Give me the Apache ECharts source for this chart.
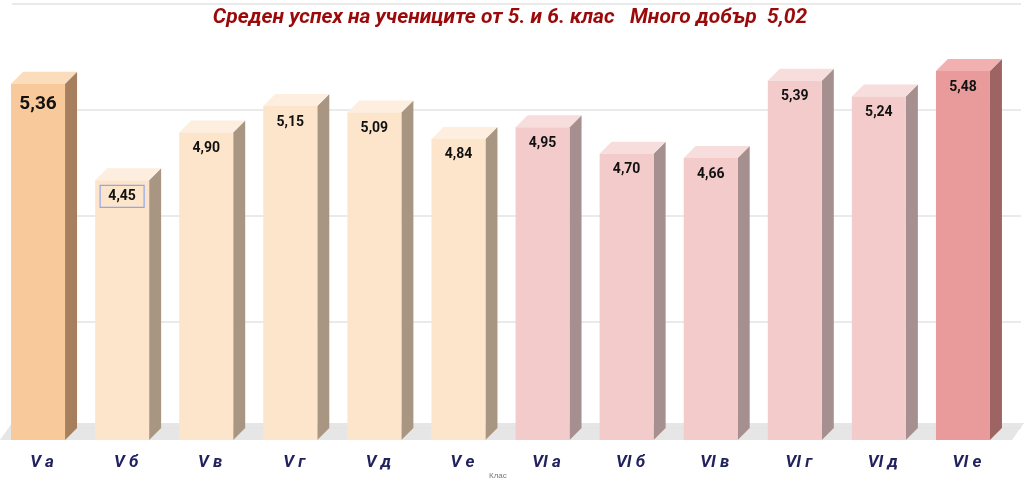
<!DOCTYPE html>
<html lang="bg">
<head>
<meta charset="UTF-8">
<title>Среден успех</title>
<script src="https://cdn.jsdelivr.net/npm/echarts@6/dist/echarts.min.js"></script>
<style>
  html,body{margin:0;padding:0;background:#fff;}
  #chart{width:1024px;height:483px;}
</style>
</head>
<body>
<div id="chart"></div>
<script>
  'use strict';
  // класове и среден успех
  var classes=['V а','V б','V в','V г','V д','V е','VI а','VI б','VI в','VI г','VI д','VI е'];
  var grades=[5.36,4.45,4.90,5.15,5.09,4.84,4.95,4.70,4.66,5.39,5.24,5.48];
  var labels=['5,36','4,45','4,90','5,15','5,09','4,84','4,95','4,70','4,66','5,39','5,24','5,48'];

  // цветове: лице, страна, горна част
  function colorsFor(i){
    if(i===0) return ['#f8c99a','#a57f5e','#fbdcbc'];
    if(i<6) return ['#fde5cc','#a89682','#fdeedf'];
    if(i===11) return ['#e99a9a','#9e6464','#f2b0b0'];
    return ['#f4cbcb','#a68f8f','#f8dddd'];
  }

  var D=12;
  function renderBar(params,api){
    var i=api.value(0);
    var top=api.coord([i,api.value(1)]);
    var base=api.coord([i,2]);
    var cx=top[0]-4, x0=cx-27, x1=cx+27;
    var c=colorsFor(i);
    var children=[
      {type:'polygon',shape:{points:[[x1,top[1]],[x1+D,top[1]-D],[x1+D,base[1]-D],[x1,base[1]]]},style:{fill:c[1]}},
      {type:'polygon',shape:{points:[[x0,top[1]],[x0+D,top[1]-D],[x1+D,top[1]-D],[x1,top[1]]]},style:{fill:c[2]}},
      {type:'rect',shape:{x:x0,y:top[1],width:x1-x0,height:base[1]-top[1]},style:{fill:c[0]}}
    ];
    if(i===1){
      children.push({type:'rect',shape:{x:cx-22,y:top[1]+5,width:44,height:22},style:{fill:'none',stroke:'#8fa8e8',lineWidth:1.2}});
    }
    children.push({type:'text',x:cx,y:top[1]+16+(i===0?4:0),style:{
      text:labels[i],align:'center',verticalAlign:'middle',
      font:'bold '+(i===0?'19px':'14px')+' Roboto, sans-serif',fill:'#111'}});
    return {type:'group',children:children};
  }

  var chart=echarts.init(document.getElementById('chart'));
  chart.setOption({
    animation:false,
    title:{text:'Среден успех на учениците от 5. и 6. клас   Много добър  5,02',left:505,top:2,textAlign:'center',
      textStyle:{color:'#9b0a0a',fontSize:21,fontStyle:'italic',fontWeight:'bold',fontFamily:'Roboto, sans-serif'}},
    graphic:[
      {type:'polygon',z:0,shape:{points:[[0,440],[12,423],[1024,423],[1012,440]]},style:{fill:'#e6e6e6'}},
      {type:'text',left:489,top:472,style:{text:'Клас',fill:'#777',font:'8px sans-serif'}}
    ],
    grid:[
      {left:0,right:15,top:16,bottom:43},
      {left:12,right:3,top:4,bottom:55}
    ],
    xAxis:[
      {type:'category',data:classes,gridIndex:0,axisLine:{show:false},axisTick:{show:false},
        axisLabel:{margin:14,color:'#22235e',fontSize:17,fontWeight:'bold',fontStyle:'italic',fontFamily:'Roboto, sans-serif'}},
      {type:'category',data:classes,gridIndex:1,show:false}
    ],
    yAxis:[
      {type:'value',gridIndex:0,min:2,max:6,interval:1,axisLabel:{show:false},axisLine:{show:false},splitLine:{show:false}},
      {type:'value',gridIndex:1,min:2,max:6,interval:1,axisLabel:{show:false},axisLine:{show:false},
        splitLine:{show:true,lineStyle:{color:'#e3e3e3',width:1.5}}}
    ],
    series:[{
      type:'custom',xAxisIndex:0,yAxisIndex:0,z:5,
      renderItem:renderBar,
      data:grades.map(function(v,i){return [i,v];})
    }]
  });
</script>
</body>
</html>
